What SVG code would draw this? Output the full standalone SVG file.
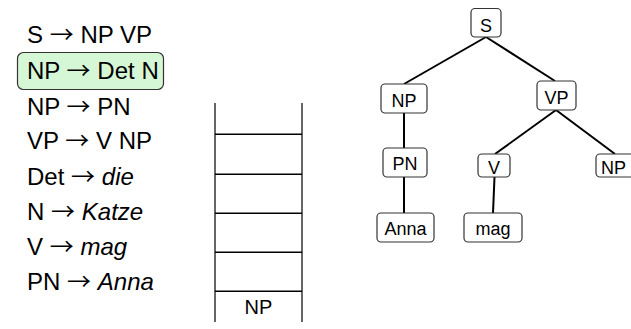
<svg xmlns="http://www.w3.org/2000/svg" width="631" height="329" viewBox="0 0 631 329">
  <style>
    .rule { font-family: "Liberation Sans", Arial, sans-serif; font-size: 23px; fill: #000; }
    .arr { font-family: "Noto Sans CJK SC", "DejaVu Sans", sans-serif; }
    .node rect { fill: #fff; stroke: #333; stroke-width: 1.2; }
    .node text { font-family: "Liberation Sans", Arial, sans-serif; font-size: 18px; fill: #000; text-anchor: middle; }
    .edge { stroke: #000; stroke-width: 2; fill: none; }
    .cell { stroke: #000; stroke-width: 1.5; }
    .rail { stroke: #666; stroke-width: 2; }
    .stacktext { font-family: "Liberation Sans", Arial, sans-serif; font-size: 20px; fill: #000; text-anchor: middle; }
  </style>

  <!-- grammar rules -->
  <g id="rules">
    <rect x="17.5" y="52.5" width="146" height="37" rx="6" fill="#d6f7d6" stroke="#333" stroke-width="1.2"/>
    <g transform="translate(27,0) scale(1.045,1) translate(-27,0)">
      <text class="rule" x="27" y="43">S <tspan class="arr">→</tspan> NP VP</text>
      <text class="rule" x="27" y="79">NP <tspan class="arr">→</tspan> Det N</text>
      <text class="rule" x="27" y="115">NP <tspan class="arr">→</tspan> PN</text>
      <text class="rule" x="27" y="149.5">VP <tspan class="arr">→</tspan> V NP</text>
      <text class="rule" x="27" y="185">Det <tspan class="arr">→</tspan> <tspan font-style="italic">die</tspan></text>
      <text class="rule" x="27" y="220">N <tspan class="arr">→</tspan> <tspan font-style="italic">Katze</tspan></text>
      <text class="rule" x="27" y="255">V <tspan class="arr">→</tspan> <tspan font-style="italic">mag</tspan></text>
      <text class="rule" x="27" y="290.5">PN <tspan class="arr">→</tspan> <tspan font-style="italic">Anna</tspan></text>
    </g>
  </g>

  <!-- parser stack -->
  <g id="stack">
    <line class="rail" x1="215" y1="103" x2="215" y2="322"/>
    <line class="rail" x1="302" y1="103" x2="302" y2="322"/>
    <line class="cell" x1="215" y1="134.3" x2="302" y2="134.3"/>
    <line class="cell" x1="215" y1="174.3" x2="302" y2="174.3"/>
    <line class="cell" x1="215" y1="213.3" x2="302" y2="213.3"/>
    <line class="cell" x1="215" y1="252.3" x2="302" y2="252.3"/>
    <line class="cell" x1="215" y1="291.3" x2="302" y2="291.3"/>
    <text class="stacktext" x="258.5" y="314">NP</text>
  </g>

  <!-- tree edges -->
  <g id="edges">
    <line class="edge" x1="486" y1="37" x2="404" y2="84"/>
    <line class="edge" x1="486" y1="37" x2="555" y2="81"/>
    <line class="edge" x1="404" y1="113" x2="404" y2="148"/>
    <line class="edge" x1="556" y1="110" x2="495" y2="154"/>
    <line class="edge" x1="556" y1="110" x2="615" y2="154"/>
    <line class="edge" x1="404" y1="177" x2="404" y2="213"/>
    <line class="edge" x1="494.5" y1="177" x2="493" y2="213"/>
  </g>

  <!-- tree nodes -->
  <g id="node-s" class="node">
    <rect x="471" y="8.5" width="30" height="28.5" rx="4"/>
    <text x="486" y="31.5">S</text>
  </g>
  <g id="node-np" class="node">
    <rect x="381" y="84" width="46" height="29" rx="4"/>
    <text x="404" y="106.5">NP</text>
  </g>
  <g id="node-vp" class="node">
    <rect x="537" y="81" width="39" height="29" rx="4"/>
    <text x="556.5" y="103.5">VP</text>
  </g>
  <g id="node-pn" class="node">
    <rect x="383" y="148" width="44" height="29" rx="4"/>
    <text x="405" y="170">PN</text>
  </g>
  <g id="node-v" class="node">
    <rect x="478" y="154" width="32" height="23" rx="4"/>
    <text x="494" y="173.5">V</text>
  </g>
  <g id="node-np2" class="node">
    <rect x="596" y="154" width="40" height="23" rx="4"/>
    <text x="613.5" y="173.5">NP</text>
  </g>
  <g id="node-anna" class="node">
    <rect x="377" y="213" width="57" height="29" rx="4"/>
    <text x="405.5" y="235">Anna</text>
  </g>
  <g id="node-mag" class="node">
    <rect x="464" y="213" width="58" height="29" rx="4"/>
    <text x="493" y="235">mag</text>
  </g>
</svg>
